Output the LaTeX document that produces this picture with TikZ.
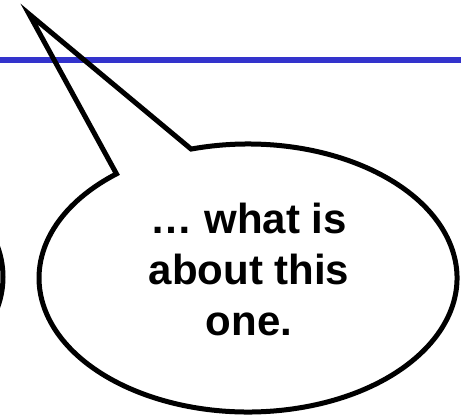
\documentclass[tikz,border=0pt]{standalone}
\usepackage{fontspec}
\setmainfont{Liberation Sans}
\usepackage{xcolor}
\usepackage{tikz}

\definecolor{ruleblue}{HTML}{3333CC}

\begin{document}
\begin{tikzpicture}[x=1pt,y=-1pt,
    bubble/.style={black,line width=5pt,line join=miter},
    rule/.style={ruleblue,line width=5.3pt}]
\useasboundingbox (0,0) rectangle (461,418);

% ---------- title rule ----------
\coordinate (ruleL) at (0,60);
\coordinate (ruleR) at (461,60);
\draw[rule] (ruleL) -- (ruleR);

% ---------- previous bubble (cut off) ----------
\draw[bubble] (-206,277) ellipse [x radius=209,y radius=134];

% ---------- speech bubble ----------
\coordinate (tip) at (29,14);
\draw[bubble] (248,278) ++(-105.8:209 and 134)
    arc[start angle=-105.8,end angle=231,x radius=209,y radius=134]
    -- (tip) -- cycle;

\node[text=black,font=\bfseries\fontsize{42}{51}\selectfont,align=center,anchor=base,inner sep=0pt]
    (say) at (249,335) {… what is\\about this\\one.};

\end{tikzpicture}
\end{document}
